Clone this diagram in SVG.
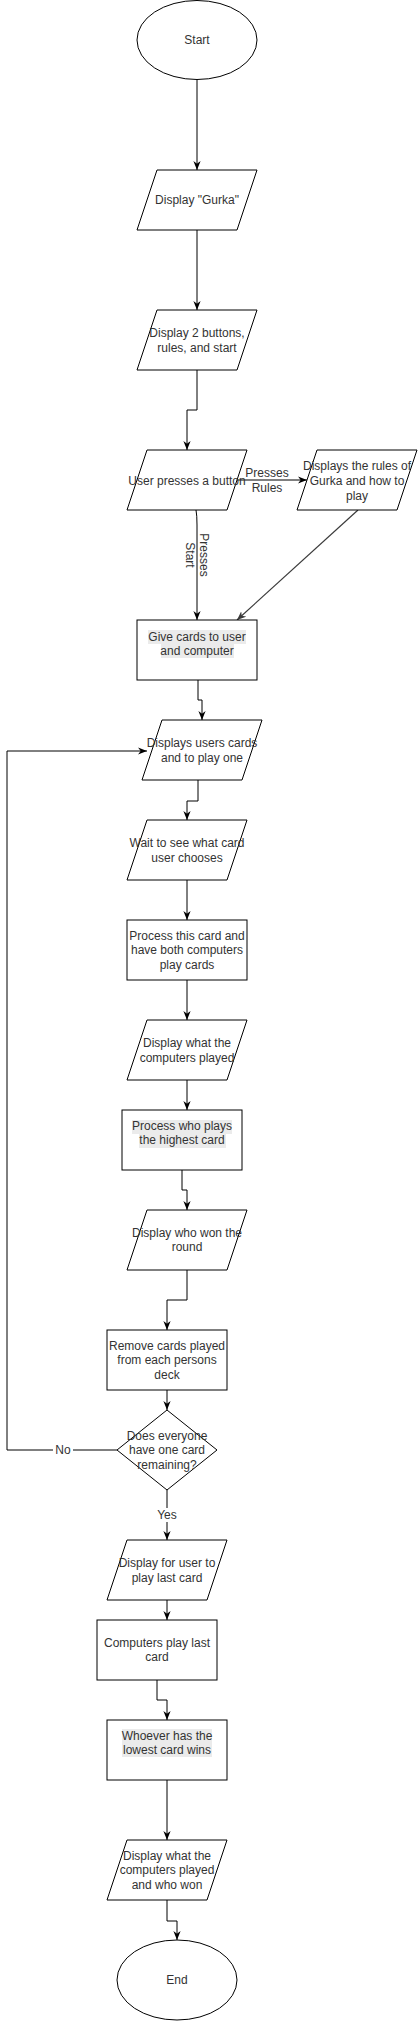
<svg xmlns="http://www.w3.org/2000/svg" width="418" height="2021" viewBox="0 0 418 2021">
<style>
.s{fill:#fff;stroke:#000;stroke-width:1}
.t{font-family:"Liberation Sans",Arial,Helvetica,sans-serif;font-size:12px;fill:#333;text-anchor:middle}
.c{fill:none;stroke:#000;stroke-width:1}
.g{fill:none;stroke:#3a3a3a;stroke-width:1.2}
.hl{fill:#ebebeb}
</style>
<defs>
<marker id="a" markerUnits="userSpaceOnUse" viewBox="0 0 10 8" markerWidth="9" markerHeight="8" refX="10" refY="4" orient="auto"><path d="M0,0 L10,4 L0,8 L3,4 Z" fill="#000"/></marker>
<marker id="ag" markerUnits="userSpaceOnUse" viewBox="0 0 10 8" markerWidth="9" markerHeight="8" refX="10" refY="4" orient="auto"><path d="M0,0 L10,4 L0,8 L3,4 Z" fill="#3a3a3a"/></marker>
</defs>
<rect width="418" height="2021" fill="#fff"/>
<g id="connectors">
<path class="c" d="M197,80 L197,170" marker-end="url(#a)"/>
<path class="c" d="M197,230 L197,310" marker-end="url(#a)"/>
<path class="c" d="M197,370 L197,410 L187,410 L187,450" marker-end="url(#a)"/>
<path class="c" d="M237,480 L307,480" marker-end="url(#a)"/>
<text class="t" x="267" y="477">Presses</text>
<text class="t" x="267" y="492">Rules</text>
<path class="c" d="M196,510 Q197,515 197,525 L197,620" marker-end="url(#a)"/>
<text class="t" transform="rotate(90 197 555)" x="197" y="552">Presses</text>
<text class="t" transform="rotate(90 197 555)" x="197" y="566">Start</text>
<path class="g" d="M358,510 L237,620" marker-end="url(#ag)"/>
<path class="c" d="M198,680 L198,700 L202,700 L202,720" marker-end="url(#a)"/>
<path class="c" d="M198,780 L198,801 L187,801 L187,820" marker-end="url(#a)"/>
<path class="c" d="M187,880 L187,920" marker-end="url(#a)"/>
<path class="c" d="M187,980 L187,1020" marker-end="url(#a)"/>
<path class="c" d="M187,1080 L187,1110" marker-end="url(#a)"/>
<path class="c" d="M182,1170 L182,1190 L187,1190 L187,1210" marker-end="url(#a)"/>
<path class="c" d="M187,1270 L187,1300 L167,1300 L167,1330" marker-end="url(#a)"/>
<path class="c" d="M167,1390 L167,1410" marker-end="url(#a)"/>
<path class="c" d="M117,1450 L7,1450 L7,751 L147,751" marker-end="url(#a)"/>
<rect x="53" y="1443" width="20" height="14" fill="#fff"/>
<text class="t" x="63" y="1454">No</text>
<path class="c" d="M167,1490 L167,1540" marker-end="url(#a)"/>
<rect x="155" y="1508" width="24" height="14" fill="#fff"/>
<text class="t" x="167" y="1519">Yes</text>
<path class="c" d="M167,1600 L167,1620" marker-end="url(#a)"/>
<path class="c" d="M157,1680 L157,1700 L167,1700 L167,1720" marker-end="url(#a)"/>
<path class="c" d="M167,1780 L167,1840" marker-end="url(#a)"/>
<path class="c" d="M167,1900 L167,1921 L177,1921 L177,1940" marker-end="url(#a)"/>
</g>
<g id="start">
<ellipse class="s" cx="197" cy="40" rx="60" ry="39.5"/>
<text class="t" x="197" y="44">Start</text>
</g>
<g id="display-gurka">
<polygon class="s" points="157,170 257,170 237,230 137,230"/>
<text class="t" x="197" y="204">Display "Gurka"</text>
</g>
<g id="display-buttons">
<polygon class="s" points="157,310 257,310 237,370 137,370"/>
<text class="t" x="197" y="337">Display 2 buttons,</text>
<text class="t" x="197" y="352">rules, and start</text>
</g>
<g id="user-presses">
<polygon class="s" points="147,450 247,450 227,510 127,510"/>
<text class="t" x="187" y="485">User presses a button</text>
</g>
<g id="rules">
<polygon class="s" points="317,450 417,450 397,510 297,510"/>
<text class="t" x="357" y="470">Displays the rules of</text>
<text class="t" x="357" y="485">Gurka and how to</text>
<text class="t" x="357" y="500">play</text>
</g>
<g id="give-cards">
<rect class="s" x="137" y="620" width="120" height="60"/>
<rect class="hl" x="148" y="630" width="98" height="14"/>
<rect class="hl" x="161" y="644" width="73" height="14"/>
<text class="t" x="197" y="641">Give cards to user</text>
<text class="t" x="197" y="655">and computer</text>
</g>
<g id="display-users-cards">
<polygon class="s" points="162,720 262,720 242,780 142,780"/>
<text class="t" x="202" y="747">Displays users cards</text>
<text class="t" x="202" y="762">and to play one</text>
</g>
<g id="wait">
<polygon class="s" points="147,820 247,820 227,880 127,880"/>
<text class="t" x="187" y="847">Wait to see what card</text>
<text class="t" x="187" y="862">user chooses</text>
</g>
<g id="process-card">
<rect class="s" x="127" y="920" width="120" height="60"/>
<text class="t" x="187" y="940">Process this card and</text>
<text class="t" x="187" y="954">have both computers</text>
<text class="t" x="187" y="969">play cards</text>
</g>
<g id="display-computers-played">
<polygon class="s" points="147,1020 247,1020 227,1080 127,1080"/>
<text class="t" x="187" y="1047">Display what the</text>
<text class="t" x="187" y="1062">computers played</text>
</g>
<g id="process-highest">
<rect class="s" x="122" y="1110" width="120" height="60"/>
<rect class="hl" x="132" y="1120" width="100" height="14"/>
<rect class="hl" x="139" y="1134" width="87" height="14"/>
<text class="t" x="182" y="1130">Process who plays</text>
<text class="t" x="182" y="1144">the highest card</text>
</g>
<g id="display-won-round">
<polygon class="s" points="147,1210 247,1210 227,1270 127,1270"/>
<text class="t" x="187" y="1237">Display who won the</text>
<text class="t" x="187" y="1251">round</text>
</g>
<g id="remove-cards">
<rect class="s" x="107" y="1330" width="120" height="60"/>
<text class="t" x="167" y="1350">Remove cards played</text>
<text class="t" x="167" y="1364">from each persons</text>
<text class="t" x="167" y="1379">deck</text>
</g>
<g id="decision">
<polygon class="s" points="167,1410 217,1450 167,1490 117,1450"/>
<text class="t" x="167" y="1440">Does everyone</text>
<text class="t" x="167" y="1454">have one card</text>
<text class="t" x="167" y="1469">remaining?</text>
</g>
<g id="display-last-card">
<polygon class="s" points="127,1540 227,1540 207,1600 107,1600"/>
<text class="t" x="167" y="1567">Display for user to</text>
<text class="t" x="167" y="1582">play last card</text>
</g>
<g id="computers-last-card">
<rect class="s" x="97" y="1620" width="120" height="60"/>
<text class="t" x="157" y="1647">Computers play last</text>
<text class="t" x="157" y="1661">card</text>
</g>
<g id="lowest-wins">
<rect class="s" x="107" y="1720" width="120" height="60"/>
<rect class="hl" x="122" y="1729" width="90" height="14"/>
<rect class="hl" x="122" y="1743" width="90" height="14"/>
<text class="t" x="167" y="1740">Whoever has the</text>
<text class="t" x="167" y="1754">lowest card wins</text>
</g>
<g id="display-final">
<polygon class="s" points="127,1840 227,1840 207,1900 107,1900"/>
<text class="t" x="167" y="1860">Display what the</text>
<text class="t" x="167" y="1874">computers played</text>
<text class="t" x="167" y="1889">and who won</text>
</g>
<g id="end">
<ellipse class="s" cx="177" cy="1980" rx="60" ry="40"/>
<text class="t" x="177" y="1984">End</text>
</g>
</svg>
